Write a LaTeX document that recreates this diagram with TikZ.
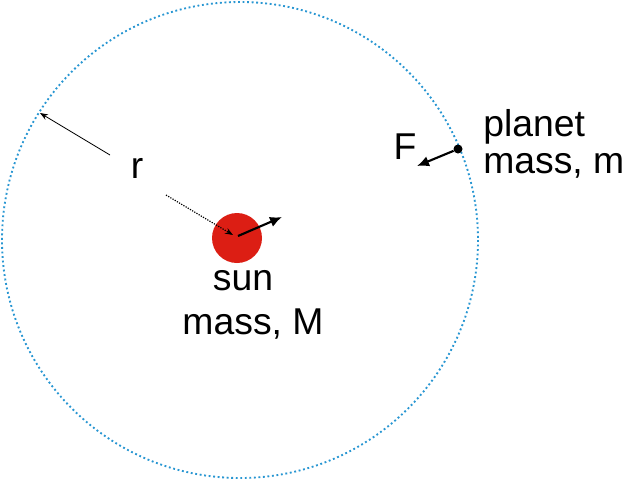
\documentclass[tikz,border=0pt]{standalone}
\usepackage{fontspec}
\setmainfont{Liberation Sans}
\usetikzlibrary{arrows.meta}
\definecolor{orb}{RGB}{40,150,210}
\definecolor{sunred}{RGB}{220,30,20}
\tikzset{lbl/.style={font=\fontsize{28}{28}\selectfont, inner sep=0pt, align=center},
thickarr/.style={-{Latex[length=9pt,width=8pt]}, line width=1.6pt}}
\begin{document}
\begin{tikzpicture}[x=0.75pt,y=-0.75pt]
\useasboundingbox (0,0) rectangle (629,480);
\draw[orb, line width=1.4pt, dotted] (240,240) circle (238);
\node[circle, fill=sunred, minimum size=50*0.75pt, inner sep=0pt] (sun) at (237,238) {};
\coordinate (sc) at (238,236);
\coordinate (st) at (282,217);
\draw[thickarr] (sc) -- (st);
\coordinate (ds) at (166,195);
\draw[densely dotted, line width=0.9pt, -{Stealth[length=6pt]}] (ds) -- (233,235);
\coordinate (rs) at (110,155);
\coordinate (re) at (40,113);
\draw[-{Stealth[length=6pt]}, line width=0.6pt] (rs) -- (re);
\node[lbl] (r) at (137,168) {r};
\node[circle, fill=black, minimum size=9*0.75pt, inner sep=0pt] (pl) at (458,149) {};
\coordinate (ft) at (417,166);
\draw[thickarr] (pl) -- (ft);
\node[lbl] (F) at (405,147) {F};
\node[lbl, anchor=base west] (ptxt) at (483,136) {planet};
\node[lbl, anchor=base west] (ptxt2) at (483,173) {mass, m};
\node[lbl, anchor=base] (stxt) at (243,290) {sun};
\node[lbl, anchor=base] (stxt2) at (253,334) {mass, M};
\end{tikzpicture}
\end{document}
